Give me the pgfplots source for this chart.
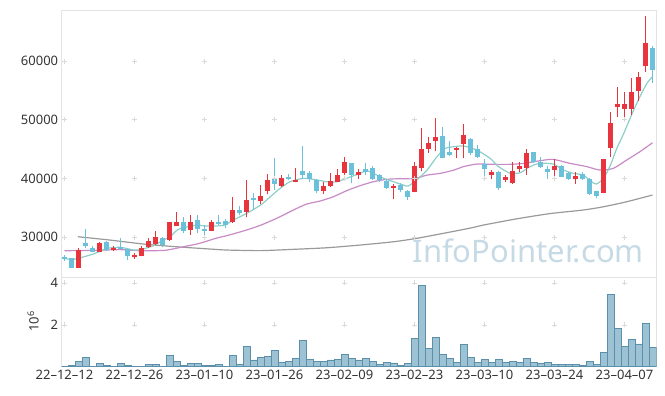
\documentclass[border=0pt]{standalone}
\usepackage{pgfplots}
\pgfplotsset{compat=1.18}
\usepackage{pgfplotstable}
\usepackage{fontspec}
\setmainfont{Noto Sans}
\definecolor{upred}{HTML}{E8343C}
\definecolor{dncyan}{HTML}{6BC1D9}
\definecolor{maA}{HTML}{8DCFC8}
\definecolor{maB}{HTML}{C88BC6}
\definecolor{maC}{HTML}{9A9A9A}
\definecolor{volfill}{HTML}{9CC2D3}
\definecolor{voledge}{HTML}{5C90AA}
\definecolor{framec}{HTML}{E3E3E3}
\definecolor{crossc}{HTML}{DADADA}
\definecolor{txt}{HTML}{333333}
\definecolor{wm}{HTML}{C6DAE6}

\pgfplotstableread{
d o h l c
2 24800 28100 24700 27800
5 27500 29200 27400 28900
7 27800 28500 27600 28200
10 26550 27200 26300 26950
11 26800 28400 26700 28050
12 28350 29800 28200 29350
13 28850 31000 28700 29950
15 29500 32600 29400 32600
16 31900 34300 31800 32550
18 31200 33700 30350 32550
21 31100 32900 31000 32550
24 32500 36750 32400 34600
26 34300 39650 33350 36300
28 36150 38850 35600 37000
29 37900 40750 37250 39700
31 38750 40600 38500 40100
33 39400 41850 39300 39700
37 37850 39350 37250 38750
38 38750 40850 38600 39550
39 39400 41550 39300 40600
40 40950 43700 40600 42750
42 40500 41550 39950 41000
47 38400 39100 36400 38700
50 37700 42750 37600 42100
51 41700 48500 41250 45000
52 45000 47000 44350 46050
53 46350 50300 44650 47100
56 44850 45400 43500 45200
57 45850 49250 43400 47350
61 40600 41400 39900 41000
63 39700 40500 39400 40200
64 39200 42750 39000 41250
65 41600 42750 41000 42150
66 41800 45050 40550 44250
70 41400 43300 40000 42100
73 39900 41000 39000 40450
77 37550 43300 37500 43300
78 45200 51300 43700 49400
79 52200 55500 50500 52650
80 51850 54650 50050 52650
81 51850 57050 50800 54750
82 54950 58200 53200 57300
83 59150 67650 58200 63100
}\upT

\pgfplotstableread{
d o h l c
0 26600 26900 25900 26200
1 26400 26500 24700 24800
3 29000 31300 28200 28450
4 28100 28500 27400 27500
6 29100 29300 27700 27850
8 28300 29800 27900 28000
9 27900 28000 26100 26800
14 29900 30000 28250 28650
17 32550 33350 30750 31100
19 32900 33700 30750 31300
20 31450 32050 30350 31100
22 32550 33700 32100 32200
23 32750 33100 31600 32100
25 34600 35250 33700 34100
27 36600 37500 34700 36350
30 39950 43400 38100 39050
32 40200 40700 39700 39900
34 41200 45500 39850 40600
35 40900 41200 39400 39900
36 39750 39900 37450 37900
41 42550 42600 39150 40550
43 41600 42550 40650 41050
44 41850 42150 39800 39950
45 40550 40800 39400 39700
46 39600 39950 38200 38400
48 38900 39150 37650 38000
49 37900 38000 36300 36800
54 47200 48800 43400 43500
55 44450 46400 43800 44050
58 46700 46900 43900 44350
59 44950 45700 43500 43700
60 42450 43250 39900 41600
62 41150 41250 38100 38350
67 44450 44500 42600 42750
68 42800 43600 41800 42000
69 41600 42100 39900 41150
71 42150 42300 40200 40300
72 40850 41000 39800 39850
74 40750 41000 39700 39850
75 39850 40100 37200 37300
76 37850 37900 36600 37000
84 62250 62550 56300 58450
}\dnT

\pgfplotstableread{
d v
0 0.0
1 0.06
2 0.27
3 0.45
4 0.03
5 0.16
6 0.08
7 0.03
8 0.16
9 0.08
10 0.03
11 0.03
12 0.11
13 0.11
14 0.03
15 0.54
16 0.27
17 0.06
18 0.16
19 0.16
20 0.06
21 0.06
22 0.11
23 0.03
24 0.54
25 0.11
26 0.98
27 0.32
28 0.45
29 0.50
30 0.78
31 0.22
32 0.27
33 0.40
34 1.26
35 0.35
36 0.27
37 0.27
38 0.32
39 0.35
40 0.59
41 0.40
42 0.32
43 0.40
44 0.27
45 0.11
46 0.22
47 0.18
48 0.06
49 0.16
50 1.36
51 3.87
52 0.88
53 1.41
54 0.59
55 0.40
56 0.22
57 1.07
58 0.45
59 0.22
60 0.35
61 0.22
62 0.35
63 0.22
64 0.27
65 0.22
66 0.40
67 0.22
68 0.16
69 0.22
70 0.11
71 0.11
72 0.11
73 0.11
74 0.06
75 0.27
76 0.11
77 0.70
78 3.44
79 1.84
80 0.98
81 1.31
82 1.09
83 2.05
84 0.93
}\volT

\begin{document}
\begin{tikzpicture}[x=1pt,y=1pt]
\pgfplotsset{every axis/.append style={
  scale only axis, width=595pt, xmin=-0.4, xmax=84.6,
  axis line style={draw=framec, line width=0.8pt},
  major tick length=0pt, minor tick length=0pt,
  ticklabel style={font=\fontsize{13}{14}\selectfont, text=txt},
  /pgf/number format/assume math mode=true,
},
candle/.style={only marks, mark=*, mark size=0pt, mark options={draw=none, fill=none}, forget plot,
  error bars/.cd, y dir=plus, y explicit, error mark=none}}
% ---------- price panel ----------
\begin{axis}[at={(61.7pt,118.5pt)}, anchor=south west,
  height=267.5pt, ymin=23100, ymax=68700,
  ytick={30000,40000,50000,60000}, xtick=\empty,
  scaled y ticks=false,
  yticklabel style={/pgf/number format/1000 sep={}},
  clip=true]
\addplot[only marks, mark=+, mark size=2.5pt, color=crossc, forget plot] coordinates {
(0,30000) (10,30000) (20,30000) (30,30000) (40,30000) (50,30000) (60,30000) (70,30000) (80,30000)
(0,40000) (10,40000) (20,40000) (30,40000) (40,40000) (50,40000) (60,40000) (70,40000) (80,40000)
(0,50000) (10,50000) (20,50000) (30,50000) (40,50000) (50,50000) (60,50000) (70,50000) (80,50000)
(0,60000) (10,60000) (20,60000) (30,60000) (40,60000) (50,60000) (60,60000) (70,60000) (80,60000)};
\node[text=wm, font=\fontsize{31}{31}\selectfont] at (rel axis cs:0.784,0.099) {InfoPointer.com};
% moving averages
\addplot[color=maC, line width=1.2pt, smooth, tension=0.4, forget plot] coordinates {
(1.9,30050) (6.5,29480) (11.3,28800) (16,28340) (20.8,27950) (23.2,27780) (28,27680) (32.7,27900)
(37.5,28170) (42.2,28630) (47,29190) (50.3,29770) (54.1,30620) (58,31530) (59.9,32050) (64.6,33100)
(69.4,34000) (74.1,34600) (77,35160) (80.3,36010) (84,37160)};
\addplot[color=maB, line width=1.2pt, smooth, tension=0.4, forget plot] coordinates {
(0,27660) (5,27750) (8,27850) (11,27650) (14,27700) (15,27850) (17,28340) (19.3,28920) (21.6,29770)
(23.5,30330) (26,31190) (28,32000) (30.3,33180) (32.7,34600) (34.6,35620) (36.5,36130) (38.4,36860)
(40.3,37890) (42.2,38740) (44.1,39420) (46,39830) (47.9,39940) (49.9,39940) (51.8,40560) (53.7,40850)
(55.6,41400) (57,42000) (58.9,42440) (61.3,42390) (63.7,42390) (65.6,42560) (67.9,43000) (69.8,43240)
(72.2,42560) (74.6,42000) (76.5,41410) (78.4,41700) (80.3,43120) (82.2,44540) (84,46070)};
\addplot[color=maA, line width=1.2pt, smooth, tension=0.4, forget plot] coordinates {
(0,26360) (1.3,26190) (4.1,27100) (6.1,28060) (8,28240) (9.9,27780) (11,27900) (12.7,28510)
(14.1,29480) (15.1,30050) (16.1,31190) (17.2,31640) (18.9,32040) (20.3,31870) (22.7,31980) (24.1,32890)
(26,34020) (28,35440) (29.4,36860) (30.8,38290) (32.2,39420) (34.1,40000) (35.6,39830) (37.5,39420)
(38.9,39420) (40.3,40000) (42.2,40850) (43.2,41300) (44.1,40850) (45.6,40000) (47,39420) (48.4,38860)
(49.1,38690) (50.3,39710) (51.8,41410) (53.2,43680) (54.4,45110) (55.6,45390) (57,45510) (58.9,44830)
(60.8,43410) (62,42000) (63.7,40850) (65.1,40960) (66.5,42000) (67.9,42560) (69.8,42440) (71.3,41410)
(72.7,40850) (74.1,40560) (75.3,39420) (76,39030) (77,40000) (78,42270) (78.9,45110) (79.9,47670)
(81.1,51080) (82.2,53920) (83.2,56200) (84,57330)};
% wicks
\addplot[candle, error bar style={draw=upred, line width=1pt}]
  table[x=d, y=l, y error plus expr=\thisrow{h}-\thisrow{l}] {\upT};
\addplot[candle, error bar style={draw=dncyan, line width=1pt}]
  table[x=d, y=l, y error plus expr=\thisrow{h}-\thisrow{l}] {\dnT};
% bodies
\addplot[candle, error bar style={draw=upred, line width=5pt}]
  table[x=d, y=o, y error plus expr=\thisrow{c}-\thisrow{o}] {\upT};
\addplot[candle, error bar style={draw=dncyan, line width=5pt}]
  table[x=d, y=c, y error plus expr=\thisrow{o}-\thisrow{c}] {\dnT};
\end{axis}
% ---------- volume panel ----------
\begin{axis}[at={(61.7pt,29.3pt)}, anchor=south west,
  height=89.2pt, ymin=0, ymax=4.25,
  ytick={2,4}, xtick={0,10,...,80},
  xticklabels={22–12–12,22–12–26,23–01–10,23–01–26,23–02–09,23–02–23,23–03–10,23–03–24,23–04–07},
  ylabel={10\textsuperscript{6}},
  ylabel style={at={(axis description cs:-0.048,0.51)}, anchor=center, font=\fontsize{13}{14}\selectfont, text=txt},
  clip=true]
\addplot[only marks, mark=+, mark size=2.5pt, color=crossc, forget plot] coordinates {
(0,2) (10,2) (20,2) (30,2) (40,2) (50,2) (60,2) (70,2) (80,2)
(0,4) (10,4) (20,4) (30,4) (40,4) (50,4) (60,4) (70,4) (80,4)};
\addplot[ybar, bar width=1, fill=volfill, draw=voledge, line width=0.6pt, forget plot]
  table[x=d, y=v] {\volT};
\end{axis}
\path (0,0) rectangle (665,396);
\end{tikzpicture}
\end{document}
